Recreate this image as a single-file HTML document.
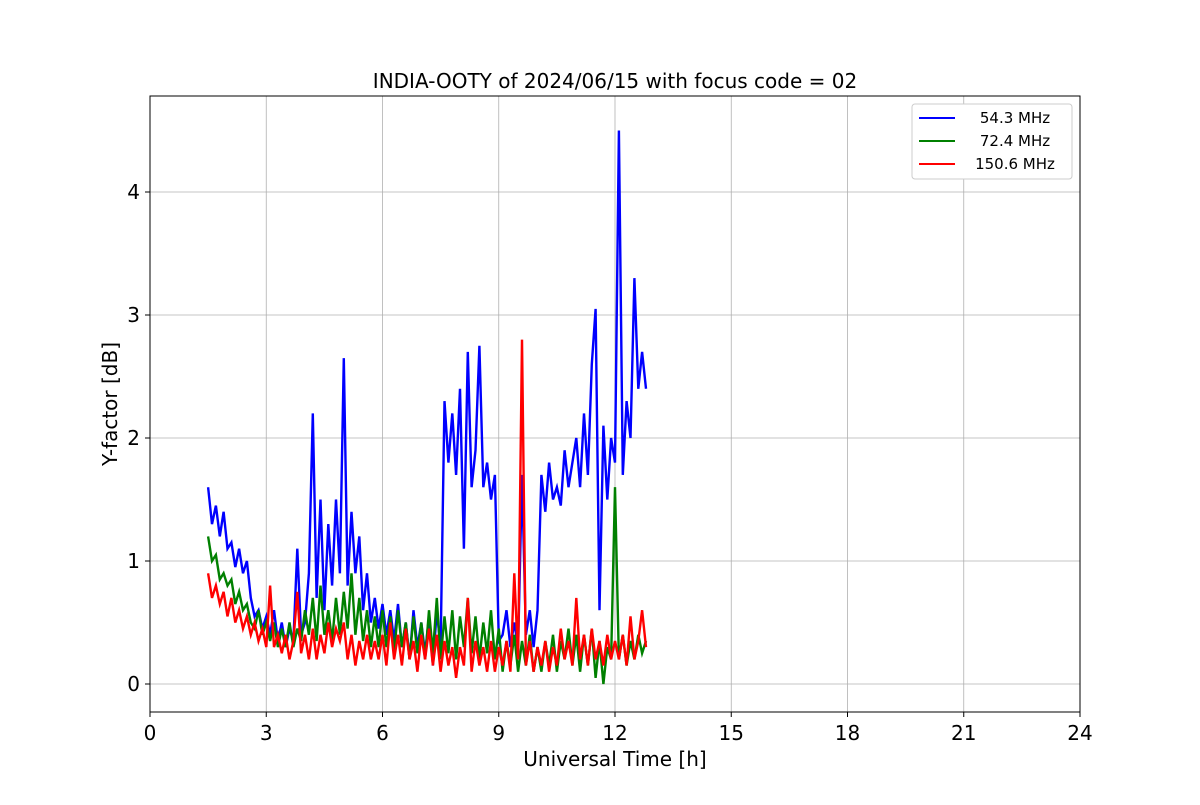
<!DOCTYPE html>
<html><head><meta charset="utf-8"><style>
body{margin:0;background:#fff;}
svg text{font-family:"DejaVu Sans","Liberation Sans",sans-serif;fill:#000;}
</style></head><body>
<svg id="chart" width="1200" height="800" xmlns="http://www.w3.org/2000/svg">
<rect width="1200" height="800" fill="#fff"/>
<g id="grid"></g>
<g id="series"></g>
<rect x="150" y="96" width="930" height="616" fill="none" stroke="#000" stroke-width="1"/>
<g id="ticks"></g>
<text x="615" y="88" font-size="20" text-anchor="middle">INDIA-OOTY of 2024/06/15 with focus code = 02</text>
<text x="615" y="766" font-size="20" text-anchor="middle">Universal Time [h]</text>
<text transform="translate(117,404) rotate(-90)" font-size="20" text-anchor="middle">Y-factor [dB]</text>
<g>
<rect x="912" y="104" width="160" height="75" rx="3" fill="#fff" stroke="#ccc"/>
<g><line x1="919" y1="118" x2="955" y2="118" stroke="#0000ff" stroke-width="2"/><text x="1015" y="123" font-size="15" text-anchor="middle">54.3 MHz</text></g>
<g><line x1="919" y1="141" x2="955" y2="141" stroke="#008000" stroke-width="2"/><text x="1015" y="146" font-size="15" text-anchor="middle">72.4 MHz</text></g>
<g><line x1="919" y1="164" x2="955" y2="164" stroke="#ff0000" stroke-width="2"/><text x="1015" y="169" font-size="15" text-anchor="middle">150.6 MHz</text></g>
</g>
</svg>
<script>
const xTicks=[0,3,6,9,12,15,18,21,24];
const yTicks=[0,1,2,3,4];
const tStart=1.5, tStep=0.1;
const blue=[1.6,1.3,1.45,1.2,1.4,1.1,1.15,0.95,1.1,0.9,1.0,
0.7,0.55,0.6,0.45,0.55,
0.4,0.6,0.35,0.5,0.3,0.45,0.35,1.1,0.4,0.5,
0.9,2.2,0.7,1.5,0.6,1.3,0.8,1.5,0.9,2.65,
0.8,1.4,0.9,1.2,0.6,0.9,0.5,0.7,0.45,0.65,
0.4,0.6,0.35,0.65,0.3,0.5,0.2,0.6,0.3,0.5,
0.25,0.55,0.15,0.6,0.3,
2.3,1.8,2.2,1.7,2.4,1.1,2.7,1.6,1.9,2.75,
1.6,1.8,1.5,1.7,0.35,
0.4,0.6,0.3,0.5,0.3,1.7,0.4,0.6,0.3,0.6,
1.7,1.4,1.8,1.5,1.6,1.45,1.9,1.6,1.8,2.0,
1.6,2.2,1.7,2.6,3.05,
0.6,2.1,1.5,2.0,1.8,
4.5,1.7,2.3,2.0,3.3,2.4,2.7,2.4];
const green=[1.2,1.0,1.05,0.85,0.9,0.8,0.85,0.65,0.75,0.6,0.65,
0.5,0.45,0.6,0.4,0.5,
0.35,0.5,0.3,0.45,0.3,0.5,0.3,0.45,0.35,0.6,
0.4,0.7,0.35,0.8,0.4,0.6,0.35,0.7,0.4,0.75,
0.45,0.9,0.4,0.7,0.35,0.6,0.3,0.55,0.3,0.6,
0.3,0.55,0.25,0.6,0.3,0.5,0.2,0.55,0.25,0.5,
0.2,0.6,0.25,0.7,0.2,0.55,0.25,0.6,0.2,0.55,
0.3,0.7,0.25,0.55,0.2,0.5,0.25,0.6,0.2,0.45,
0.1,0.35,0.15,0.4,0.1,0.35,0.15,0.4,0.1,0.3,
0.1,0.35,0.15,0.4,0.1,0.35,0.2,0.45,0.15,0.4,
0.1,0.4,0.15,0.45,0.05,0.35,0.0,0.3,0.2,1.6,
0.2,0.4,0.15,0.35,0.2,0.4,0.25,0.35];
const red=[0.9,0.7,0.8,0.65,0.75,0.55,0.7,0.5,0.6,0.45,0.55,
0.4,0.5,0.35,0.45,0.3,
0.8,0.3,0.4,0.25,0.4,0.2,0.35,0.75,0.25,0.4,
0.2,0.45,0.2,0.4,0.25,0.5,0.3,0.45,0.35,0.5,
0.2,0.4,0.15,0.35,0.2,0.4,0.2,0.35,0.2,0.4,
0.15,0.5,0.2,0.4,0.15,0.45,0.2,0.35,0.1,0.4,
0.2,0.45,0.15,0.4,0.1,0.35,0.15,0.3,0.05,0.3,
0.15,0.7,0.1,0.35,0.15,0.3,0.1,0.35,0.1,0.3,
0.15,0.35,0.1,0.9,0.2,2.8,0.15,0.35,0.1,0.3,
0.15,0.35,0.1,0.3,0.15,0.45,0.2,0.35,0.15,0.7,
0.2,0.4,0.15,0.45,0.2,0.35,0.15,0.4,0.2,0.35,
0.2,0.4,0.15,0.55,0.2,0.35,0.6,0.3];
const NS="http://www.w3.org/2000/svg";
const X=v=>150+v*(930/24);
const Y=v=>684-v*123;
const grid=document.getElementById('grid'),ticks=document.getElementById('ticks'),ser=document.getElementById('series');
function mk(tag,attrs,parent){const e=document.createElementNS(NS,tag);for(const k in attrs)e.setAttribute(k,attrs[k]);parent.appendChild(e);return e;}
xTicks.forEach(v=>{
 const g=mk('line',{x1:X(v),x2:X(v),y1:96,y2:712,stroke:'#b0b0b0','stroke-width':0.8},grid);
 
 
 const t=mk('line',{x1:X(v),x2:X(v),y1:712,y2:717,stroke:'#000'},ticks);
 
 
 const l=mk('text',{x:X(v),y:740,'font-size':20,'text-anchor':'middle'},ticks);l.textContent=v;
 
 
});
yTicks.forEach(v=>{
 const g=mk('line',{x1:150,x2:1080,y1:Y(v),y2:Y(v),stroke:'#b0b0b0','stroke-width':0.8},grid);
 
 
 const t=mk('line',{x1:145,x2:150,y1:Y(v),y2:Y(v),stroke:'#000'},ticks);
 
 
 const l=mk('text',{x:140,y:Y(v)+7,'font-size':20,'text-anchor':'end'},ticks);l.textContent=v;
 
 
});
[[blue,'#0000ff','series-54-mhz'],[green,'#008000','series-72-mhz'],[red,'#ff0000','series-150-mhz']].forEach(([d,c,n])=>{
 const pts=d.map((v,i)=>X(tStart+i*tStep).toFixed(1)+','+Y(v).toFixed(1)).join(' ');
 const p=mk('polyline',{points:pts,fill:'none',stroke:c,'stroke-width':2.4,'stroke-linejoin':'miter'},ser);
 
 
});
</script>
</body></html>
